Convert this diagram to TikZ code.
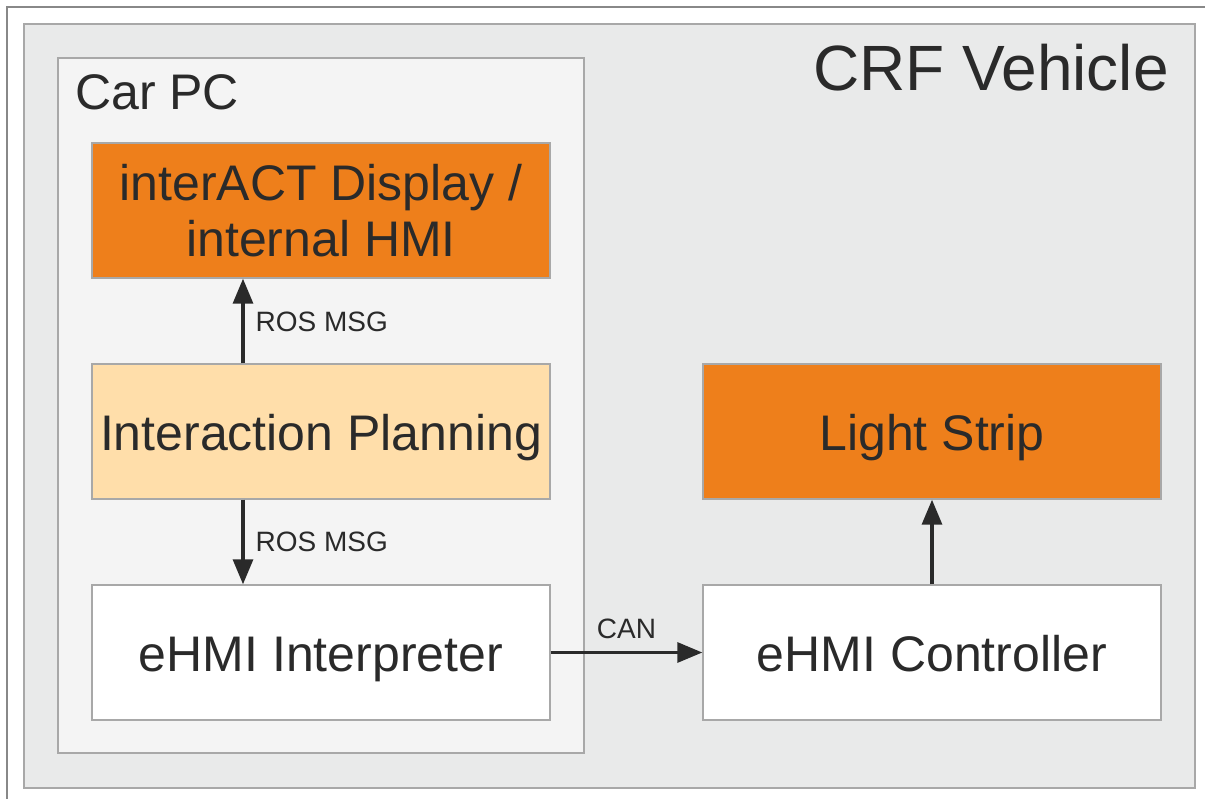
\documentclass[tikz,border=0pt]{standalone}
\usepackage{fontspec}
\setmainfont{Liberation Sans}
\usetikzlibrary{arrows.meta}
\definecolor{frameline}{HTML}{888888}
\definecolor{boxline}{HTML}{A8A8A8}
\definecolor{vehiclefill}{HTML}{E9EAEA}
\definecolor{pcfill}{HTML}{F4F4F4}
\definecolor{hmiorange}{HTML}{EE7F1B}
\definecolor{planfill}{HTML}{FFDEAA}
\definecolor{ink}{HTML}{2A2A2A}
\tikzset{
  area/.style={draw=boxline, line width=1.4pt},
  block/.style={draw=boxline, line width=1.4pt, minimum width=458pt, minimum height=135pt,
    inner sep=0pt},
  blocktext/.style={anchor=base, text=ink, inner sep=0pt, font=\fontsize{50}{56}\selectfont},
  link/.style={ink, line width=3.2pt, -{Triangle[length=25pt,width=20pt]}},
  tag/.style={text=ink, font=\fontsize{28}{32}\selectfont, inner sep=0pt}
}
\begin{document}
\begin{tikzpicture}[x=1pt,y=-1pt]
\useasboundingbox (0,0) rectangle (1205,799);
\fill[white] (0,0) rectangle (1205,799);
% page frame
\draw[frameline, line width=1.4pt] (7,799) -- (7,7) -- (1205,7);
% vehicle and car PC areas
\draw[area, fill=vehiclefill] (24,24) rectangle (1195,788);
\node[anchor=base east, text=ink, font=\fontsize{64}{70}\selectfont, inner sep=0pt] (veh) at (1169,90.5) {CRF Vehicle};
\draw[area, fill=pcfill] (58,58) rectangle (584,753);
\node[anchor=base west, text=ink, font=\fontsize{50}{54}\selectfont, inner sep=0pt] (pc) at (75,110) {Car PC};
% blocks
\node[block, fill=hmiorange] (disp) at (321,210.5) {};
\node[blocktext] (disp1) at ([yshift=9.5pt]disp.center) {interACT Display /};
\node[blocktext] (disp2) at ([yshift=-46pt]disp.center) {internal HMI};
\node[block, fill=planfill] (plan) at (321,431.5) {};
\node[blocktext] (plant) at ([yshift=-19pt]plan.center) {Interaction Planning};
\node[block, fill=white] (interp) at (321,652.5) {};
\node[blocktext] (interpt) at ([yshift=-19pt]interp.center) {eHMI Interpreter};
\node[block, fill=hmiorange] (strip) at (932,431.5) {};
\node[blocktext] (stript) at ([yshift=-19pt]strip.center) {Light Strip};
\node[block, fill=white] (ctrl) at (932,652.5) {};
\node[blocktext] (ctrlt) at ([yshift=-19pt]ctrl.center) {eHMI Controller};
% connectors
\draw[link] (plan.north -| 243,0) -- (disp.south -| 243,0) node[tag, pos=0.49, anchor=west, xshift=11pt] {ROS MSG};
\draw[link] (plan.south -| 243,0) -- (interp.north -| 243,0) node[tag, pos=0.5, anchor=west, xshift=11pt] {ROS MSG};
\draw[link] (interp.east) -- (ctrl.west) node[tag, midway, anchor=south, yshift=12pt] {CAN};
\draw[link] (ctrl.north) -- (strip.south);
\end{tikzpicture}
\end{document}
